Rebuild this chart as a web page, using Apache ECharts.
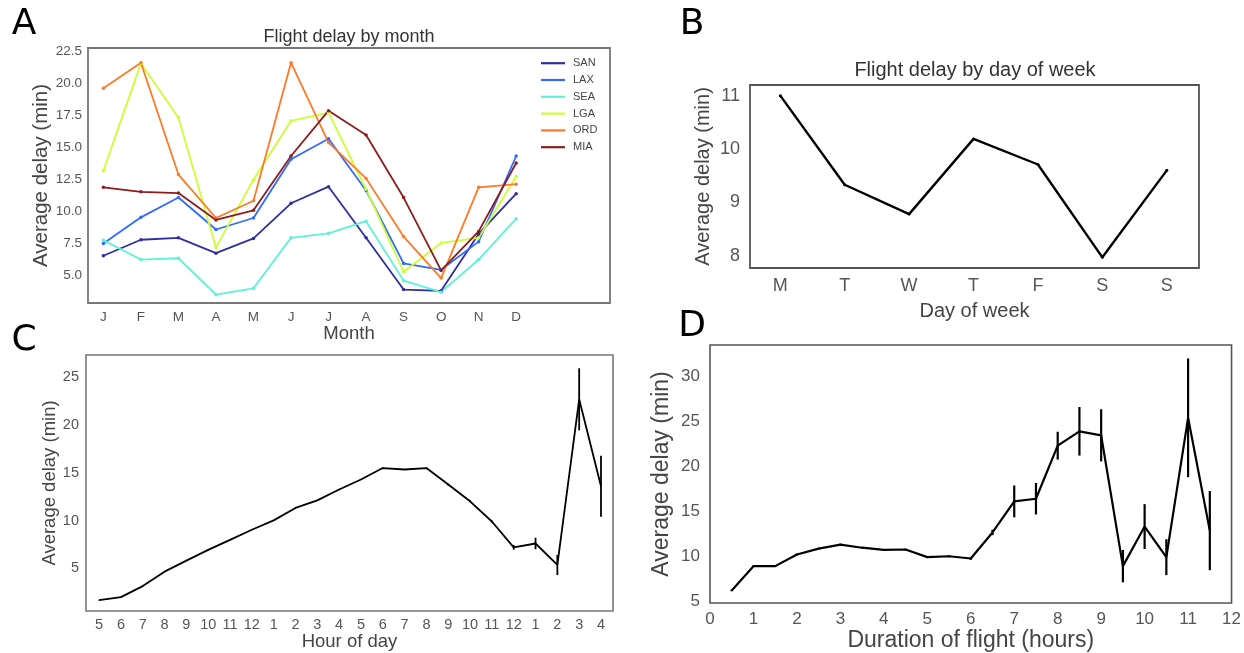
<!DOCTYPE html>
<html>
<head>
<meta charset="utf-8">
<script src="https://cdn.jsdelivr.net/npm/echarts@6/dist/echarts.min.js"></script>
<style>
html,body{margin:0;padding:0;background:#fff;}
#chart{width:1244px;height:653px;}
</style>
</head>
<body>
<div id="chart"></div>
<script>
// ---------- Panel A: flight delay by month ----------
const months = ['J','F','M','A','M','J','J','A','S','O','N','D'];
const airports = ['SAN','LAX','SEA','LGA','ORD','MIA'];
const SAN = [6.5, 7.75, 7.9, 6.7, 7.85, 10.6, 11.9, 7.9, 3.85, 3.75, 8.2, 11.35];
const LAX = [7.45, 9.5, 11.05, 8.55, 9.45, 14.05, 15.65, 11.6, 5.9, 5.4, 7.6, 14.3];
const SEA = [7.7, 6.2, 6.3, 3.45, 3.95, 7.9, 8.25, 9.2, 4.55, 3.65, 6.2, 9.4];
const LGA = [13.15, 21.55, 17.3, 7.15, 12.45, 17.05, 17.7, 11.7, 5.25, 7.5, 7.9, 12.7];
const ORD = [19.6, 21.6, 12.85, 9.45, 10.8, 21.6, 15.35, 12.55, 8.0, 4.75, 11.85, 12.1];
const MIA = [11.85, 11.5, 11.4, 9.3, 10.05, 14.3, 17.85, 15.95, 11.05, 5.35, 8.4, 13.75];
const monthTicks = [5.0, 7.5, 10.0, 12.5, 15.0, 17.5, 20.0, 22.5];

// ---------- Panel B: flight delay by day of week ----------
const days = ['M','T','W','T','F','S','S'];
const dayDelay = [11.0, 9.33, 8.78, 10.19, 9.71, 7.97, 9.6];
const dayTicks = [8, 9, 10, 11];

// ---------- Panel C: hour of day ----------
const hours = ['5','6','7','8','9','10','11','12','1','2','3','4','5','6','7','8','9','10','11','12','1','2','3','4'];
const hourDelay = [1.67, 1.98, 3.14, 4.65, 5.8, 6.93, 7.98, 9.04, 10.02, 11.32, 12.12, 13.25, 14.3, 15.5, 15.35, 15.5, 13.77, 12.02, 9.9, 7.2, 7.6, 5.35, 22.7, 13.6];
const hourErr = [0.05, 0.05, 0.05, 0.05, 0.05, 0.05, 0.05, 0.05, 0.05, 0.05, 0.05, 0.05, 0.05, 0.05, 0.05, 0.05, 0.1, 0.1, 0.1, 0.25, 0.6, 1.05, 3.25, 3.2];
const hourTicks = [5, 10, 15, 20, 25];

// ---------- Panel D: duration of flight ----------
const durations = [0.5, 1, 1.5, 2, 2.5, 3, 3.5, 4, 4.5, 5, 5.5, 6, 6.5, 7, 7.5, 8, 8.5, 9, 9.5, 10, 10.5, 11, 11.5];
const durDelay = [6.2, 8.9, 8.9, 10.2, 10.85, 11.3, 10.95, 10.7, 10.75, 9.9, 10.0, 9.75, 12.65, 16.1, 16.4, 22.3, 23.9, 23.45, 8.9, 13.3, 9.9, 25.4, 12.85];
const durErr = [0.1, 0.1, 0.1, 0.1, 0.1, 0.1, 0.1, 0.1, 0.1, 0.1, 0.1, 0.15, 0.3, 1.77, 1.75, 1.55, 2.7, 2.9, 1.8, 2.5, 2.0, 6.6, 4.4];
const durTicks = [5, 10, 15, 20, 25, 30];

const FONT = '"Liberation Sans", Arial, sans-serif';
const LABEL = '#444';
const TICK = '#555';
const airportData = [SAN, LAX, SEA, LGA, ORD, MIA];
const airportColors = ['#2e2ea0', '#2f6bff', '#5ef2d4', '#ccff33', '#ff7a26', '#8b1d1d'];

const chart = echarts.init(document.getElementById('chart'), null, {renderer: 'canvas'});

function errRender(params, api) {
  const x = api.value(0);
  const p1 = api.coord([x, api.value(1)]);
  const p2 = api.coord([x, api.value(2)]);
  return {
    type: 'line',
    shape: {x1: p1[0], y1: p1[1], x2: p2[0], y2: p2[1]},
    style: {stroke: '#000', lineWidth: params.seriesIndex === 9 ? 1.8 : 2.2}
  };
}

function valueAxis(gridIndex, min, max, customVals, fmt, fontSize, margin, name, nameGap, nameSize) {
  return {
    type: 'value', gridIndex: gridIndex, min: min, max: max,
    axisLine: {show: false}, axisTick: {show: false}, splitLine: {show: false},
    axisLabel: {
      customValues: customVals, formatter: fmt, color: TICK,
      fontFamily: FONT, fontSize: fontSize, margin: margin
    },
    name: name, nameLocation: 'middle', nameGap: nameGap,
    nameTextStyle: {color: LABEL, fontFamily: FONT, fontSize: nameSize}
  };
}

const series = [];
airports.forEach(function (ap, k) {
  series.push({
    name: ap, type: 'line', xAxisIndex: 0, yAxisIndex: 0,
    data: airportData[k].map(function (v, i) { return [i, v]; }),
    symbol: 'circle', symbolSize: 3.5, showSymbol: true,
    lineStyle: {width: 1.8, color: airportColors[k]},
    itemStyle: {color: airportColors[k]},
    emphasis: {disabled: true}
  });
});
series.push({
  type: 'line', xAxisIndex: 1, yAxisIndex: 1,
  data: dayDelay.map(function (v, i) { return [i, v]; }),
  symbol: 'circle', symbolSize: 3, lineStyle: {width: 2.4, color: '#000'}, itemStyle: {color: '#000'}
});
series.push({
  type: 'line', xAxisIndex: 2, yAxisIndex: 2,
  data: hourDelay.map(function (v, i) { return [i, v]; }),
  symbol: 'none', lineStyle: {width: 1.8, color: '#000'}
});
series.push({
  type: 'line', xAxisIndex: 3, yAxisIndex: 3,
  data: durDelay.map(function (v, i) { return [durations[i], v]; }),
  symbol: 'none', lineStyle: {width: 2.2, color: '#000'}
});
series.push({
  type: 'custom', xAxisIndex: 2, yAxisIndex: 2, renderItem: errRender,
  encode: {x: 0, y: [1, 2]},
  data: hourDelay.map(function (v, i) { return [i, v - hourErr[i], v + hourErr[i]]; })
});
series.push({
  type: 'custom', xAxisIndex: 3, yAxisIndex: 3, renderItem: errRender,
  encode: {x: 0, y: [1, 2]},
  data: durDelay.map(function (v, i) { return [durations[i], v - durErr[i], v + durErr[i]]; })
});

function gtext(txt, x, y, font, fill) {
  return {
    type: 'text', x: x, y: y, silent: true,
    style: {text: txt, font: font, fill: fill, align: 'center', verticalAlign: 'middle',
            textAlign: 'center', textVerticalAlign: 'middle'}
  };
}

const option = {
  animation: false,
  backgroundColor: '#fff',
  grid: [
    {left: 88, top: 48, width: 522, height: 255, show: true, borderColor: '#777', borderWidth: 1.8, backgroundColor: 'transparent'},
    {left: 750, top: 85, width: 449, height: 183, show: true, borderColor: '#555', borderWidth: 1.8, backgroundColor: 'transparent'},
    {left: 86, top: 355, width: 527, height: 256, show: true, borderColor: '#777', borderWidth: 1.6, backgroundColor: 'transparent'},
    {left: 710, top: 345, width: 523, height: 258, show: true, borderColor: '#555', borderWidth: 1.6, backgroundColor: 'transparent'}
  ],
  xAxis: [
    valueAxis(0, -0.41, 13.5, months.map(function (m, i) { return i; }), function (v) { return months[Math.round(v)]; }, 13.5, 7, 'Month', 21, 18.5),
    valueAxis(1, -0.47, 6.5, days.map(function (d, i) { return i; }), function (v) { return days[Math.round(v)]; }, 18, 9, 'Day of week', 33, 20),
    valueAxis(2, -0.6, 23.55, hours.map(function (h, i) { return i; }), function (v) { return hours[Math.round(v)]; }, 14.5, 6, 'Hour of day', 20, 18.5),
    {
      type: 'value', gridIndex: 3, min: 0, max: 12, interval: 1,
      axisLine: {show: false}, axisTick: {show: false}, splitLine: {show: false},
      axisLabel: {color: TICK, fontFamily: FONT, fontSize: 17, margin: 8},
      name: 'Duration of flight (hours)', nameLocation: 'middle', nameGap: 26,
      nameTextStyle: {color: LABEL, fontFamily: FONT, fontSize: 23}
    }
  ],
  yAxis: [
    valueAxis(0, 2.8, 22.75, monthTicks, function (v) { return v.toFixed(1); }, 13.5, 6, 'Average delay (min)', 36, 20.5),
    valueAxis(1, 7.77, 11.2, dayTicks, function (v) { return String(v); }, 18, 10, 'Average delay (min)', 37, 20),
    valueAxis(2, 0.53, 27.34, hourTicks, function (v) { return String(v); }, 14.5, 7, 'Average delay (min)', 26, 18.5),
    valueAxis(3, 4.8, 33.5, durTicks, function (v) { return String(v); }, 17, 10, 'Average delay (min)', 37, 23)
  ],
  legend: {
    data: airports, orient: 'vertical', left: 541, top: 57, padding: 0,
    icon: 'rect', itemWidth: 24, itemHeight: 2.2, itemGap: 4.4,
    textStyle: {color: LABEL, fontFamily: FONT, fontSize: 11, lineHeight: 12.4, padding: [0, 0, 0, 3]},
    selectedMode: false
  },
  graphic: [
    gtext('A', 24, 25, '36px "DejaVu Sans"', '#000'),
    gtext('B', 692, 25, '36px "DejaVu Sans"', '#000'),
    gtext('C', 24, 341, '36px "DejaVu Sans"', '#000'),
    gtext('D', 692, 327, '36px "DejaVu Sans"', '#000'),
    gtext('Flight delay by month', 349, 37.5, '18px ' + FONT, '#333'),
    gtext('Flight delay by day of week', 975, 70, '20px ' + FONT, '#333')
  ],
  series: series
};
chart.setOption(option);
</script>
</body>
</html>
